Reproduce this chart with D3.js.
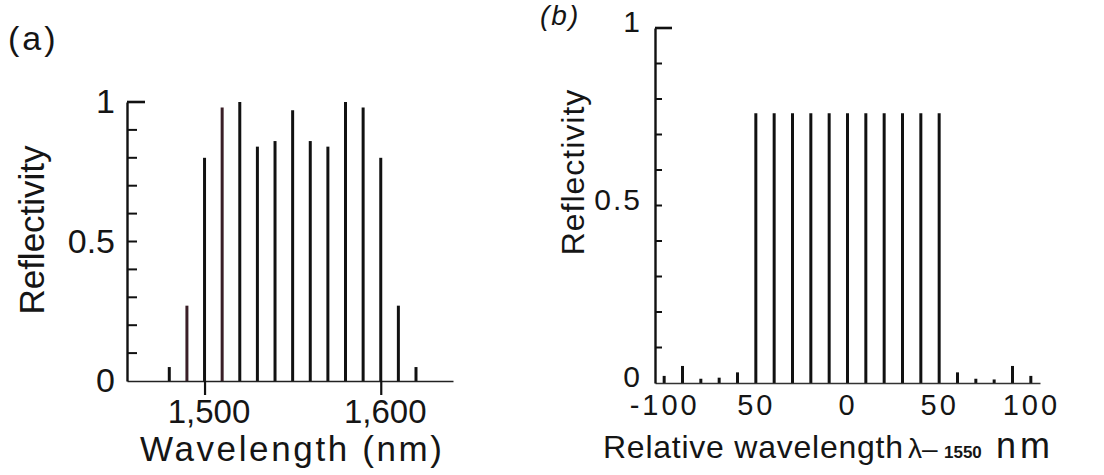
<!DOCTYPE html>
<html>
<head>
<meta charset="utf-8">
<script src="https://cdn.jsdelivr.net/npm/d3@7"></script>
<style>
  html, body { margin: 0; padding: 0; background: #fff; }
  svg { display: block; }
  text { font-family: "Liberation Sans", Arial, sans-serif; fill: #151515; }
</style>
</head>
<body>
<svg id="chart" width="1104" height="475"></svg>
<script>
// ---------- Panel (a) data ----------
const aWavelengths = [1480, 1490, 1500, 1510, 1520, 1530, 1540, 1550, 1560, 1570, 1580, 1590, 1600, 1610, 1620];
const aReflectivity = [0.05, 0.27, 0.80, 0.98, 1.00, 0.84, 0.86, 0.97, 0.86, 0.84, 1.00, 0.98, 0.80, 0.27, 0.05];
const aXTicks = [1500, 1600];
const aXTickLabels = ["1,500", "1,600"];
const aYTicks = [0, 0.5, 1];
const aYTickLabels = ["0", "0.5", "1"];
const aYMinorTicks = [0.1, 0.2, 0.3, 0.4, 0.5, 0.6, 0.7, 0.8, 0.9];

// ---------- Panel (b) data ----------
const bRelWavelengths = [-100, -90, -80, -70, -60, -50, -40, -30, -20, -10, 0, 10, 20, 30, 40, 50, 60, 70, 80, 90, 100];
const bReflectivity = [0.02, 0.048, 0.012, 0.015, 0.03,
                       0.76, 0.76, 0.76, 0.76, 0.76, 0.76, 0.76, 0.76, 0.76, 0.76, 0.76,
                       0.03, 0.012, 0.01, 0.048, 0.02];
const bXTicks = [-100, -50, 0, 50, 100];
const bXTickLabels = ["-100", "50", "0", "50", "100"];
const bYTicks = [0, 0.5, 1];
const bYTickLabels = ["0", "0.5", "1"];
const bYMinorTicks = [0.1, 0.2, 0.3, 0.4, 0.5, 0.6, 0.7, 0.8, 0.9];

const svg = d3.select("#chart");

function yAxisWithTicks(g, y, x0, minor, minorLen, topLen, labels, labelVals, fontSize, pad, dy, ls) {
  // axis line (domain) via d3 axis
  const axis = g.append("g").attr("transform", `translate(${x0},0)`)
    .call(d3.axisLeft(y).tickValues(labelVals).tickSize(0).tickSizeOuter(0).tickPadding(pad)
      .tickFormat((d, i) => labels[i]));
  axis.select(".domain").attr("stroke", "#111").attr("stroke-width", 2.4);
  axis.selectAll(".tick line").remove();
  axis.selectAll(".tick text").attr("font-size", fontSize).attr("dy", dy)
    .attr("letter-spacing", ls).attr("fill", "#151515");
  // inward minor ticks
  g.append("g").selectAll("line").data(minor).join("line")
    .attr("x1", x0).attr("x2", x0 + minorLen)
    .attr("y1", d => y(d)).attr("y2", d => y(d))
    .attr("stroke", "#111").attr("stroke-width", 2);
  // top bracket
  g.append("line").attr("x1", x0).attr("x2", x0 + topLen)
    .attr("y1", y(y.domain()[1])).attr("y2", y(y.domain()[1]))
    .attr("stroke", "#111").attr("stroke-width", 2.6);
}

// ================= Panel (a) =================
const xa = d3.scaleLinear().domain([1456, 1641]).range([127, 453]);
const ya = d3.scaleLinear().domain([0, 1]).range([381, 102]);
const ga = svg.append("g");

ga.append("g").selectAll("line").data(aWavelengths).join("line")
  .attr("x1", d => xa(d)).attr("x2", d => xa(d))
  .attr("y1", ya(0)).attr("y2", (d, i) => ya(aReflectivity[i]))
  .attr("stroke", d => (d === 1510 || d === 1490) ? "#3a1f27" : "#111")
  .attr("stroke-width", 3);

const xAxisA = ga.append("g").attr("transform", `translate(0,${ya(0)})`)
  .call(d3.axisBottom(xa).tickValues(aXTicks).tickSize(14).tickSizeOuter(0).tickPadding(5)
    .tickFormat((d, i) => aXTickLabels[i]));
xAxisA.select(".domain").attr("stroke", "#222").attr("stroke-width", 1.6);
xAxisA.selectAll(".tick line").attr("stroke", "#111").attr("stroke-width", 2.2);
xAxisA.selectAll(".tick text").attr("font-size", 33).attr("dx", 4).attr("fill", "#151515");

yAxisWithTicks(ga, ya, xa.range()[0], aYMinorTicks, 10, 18, aYTickLabels, aYTicks, 34, 12, "0.32em", 0);

ga.append("text").attr("x", 8).attr("y", 50).attr("font-size", 34).attr("letter-spacing", 3).text("(a)");
ga.append("text").attr("transform", "translate(44,230) rotate(-90)").attr("text-anchor", "middle")
  .attr("font-size", 35).text("Reflectivity");
ga.append("text").attr("x", 291).attr("y", 461).attr("text-anchor", "middle")
  .attr("font-size", 35).attr("textLength", 302).attr("lengthAdjust", "spacing").text("Wavelength (nm)");

// ================= Panel (b) =================
const xb = d3.scaleLinear().domain([-105, 105]).range([655, 1040]);
const yb = d3.scaleLinear().domain([0, 1]).range([383, 28]);
const gb = svg.append("g");

gb.append("g").selectAll("line").data(bRelWavelengths).join("line")
  .attr("x1", d => xb(d)).attr("x2", d => xb(d))
  .attr("y1", yb(0)).attr("y2", (d, i) => yb(bReflectivity[i]))
  .attr("stroke", "#111")
  .attr("stroke-width", 3);

const xAxisB = gb.append("g").attr("transform", `translate(0,${yb(0)})`)
  .call(d3.axisBottom(xb).tickValues(bXTicks).tickSize(0).tickSizeOuter(0).tickPadding(11)
    .tickFormat((d, i) => bXTickLabels[i]));
xAxisB.select(".domain").attr("stroke", "#333").attr("stroke-width", 1.5);
xAxisB.selectAll(".tick line").remove();
xAxisB.selectAll(".tick text").attr("font-size", 29).attr("letter-spacing", 3).attr("fill", "#151515");

yAxisWithTicks(gb, yb, xb.range()[0], bYMinorTicks, 7, 17, bYTickLabels, bYTicks, 30, 13, "0.12em", 2);

gb.append("text").attr("x", 540).attr("y", 25).attr("font-size", 28).attr("font-style", "italic")
  .attr("letter-spacing", 2).text("(b)");
gb.append("text").attr("transform", "translate(584,172) rotate(-90)").attr("text-anchor", "middle")
  .attr("font-size", 32).attr("letter-spacing", 1).text("Reflectivity");

const bt = gb.append("text").attr("y", 458);
bt.append("tspan").attr("x", 603).attr("font-size", 32).attr("textLength", 300)
  .attr("lengthAdjust", "spacing").text("Relative wavelength");
bt.append("tspan").attr("x", 908).attr("font-size", 28).text("λ–");
bt.append("tspan").attr("x", 944).attr("font-size", 17).attr("font-weight", "bold").text("1550");
bt.append("tspan").attr("x", 996).attr("font-size", 36).attr("letter-spacing", 4).text("nm");
</script>
</body>
</html>
